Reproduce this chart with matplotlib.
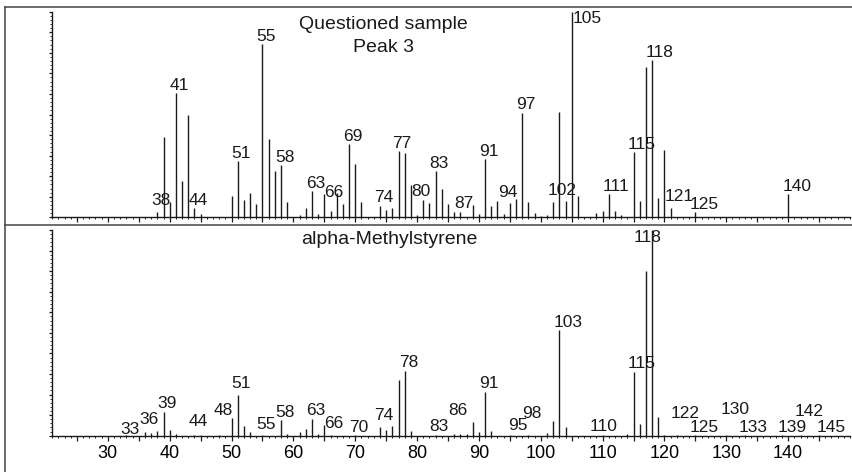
import matplotlib.pyplot as plt
from matplotlib.lines import Line2D
from matplotlib.ticker import FixedLocator, FuncFormatter, MultipleLocator

plt.rcParams["font.family"] = ["Liberation Sans", "DejaVu Sans"]

INK = "#1a1a1a"

# Questioned sample, peak 3 (relative abundance, %)
SAMPLE_MZ = [38, 39, 40, 41, 42, 43, 44, 45, 50, 51, 52, 53, 54, 55, 56, 57, 58, 59,
             61, 62, 63, 64, 65, 66, 67, 68, 69, 70, 71, 74, 75, 76, 77, 78, 79, 80,
             81, 82, 83, 84, 85, 86, 87, 89, 90, 91, 92, 93, 94, 95, 96, 97, 98, 99,
             100, 101, 102, 103, 104, 105, 106, 109, 110, 111, 112, 113, 115, 116,
             117, 118, 119, 120, 121, 125, 140]
SAMPLE_ABUND = [2.4, 39.2, 7.6, 60.3, 17.5, 49.6, 4.4, 1.5, 10.5, 27.2, 8.3, 11.7, 6.3,
                84.1, 37.9, 22.7, 25.3, 7.4, 1.3, 4.6, 12.6, 1.7, 11.4, 2.9, 11.7, 6.6,
                35.6, 25.8, 7.4, 5.7, 3.4, 4.6, 32.2, 31.1, 15.6, 1.2, 8.6, 7.0, 22.4,
                13.9, 6.5, 2.4, 2.8, 6.0, 1.8, 28.2, 5.4, 7.9, 1.7, 7.0, 9.0, 50.9, 7.4,
                1.9, 0.8, 1.3, 7.4, 51.4, 7.9, 100.0, 10.2, 2.2, 2.9, 11.1, 3.3, 1.1,
                31.6, 7.9, 72.9, 76.5, 9.5, 32.7, 4.7, 2.4, 11.2]
SAMPLE_LABELS = [38, 41, 44, 51, 55, 58, 63, 66, 69, 74, 77, 80, 83, 87, 91, 94, 97,
                 102, 105, 111, 115, 118, 121, 125, 140]

# Library reference spectrum: alpha-methylstyrene
REF_MZ = [33, 36, 37, 38, 39, 40, 41, 44, 45, 48, 50, 51, 52, 53, 55, 58, 59, 61, 62,
          63, 64, 65, 66, 70, 74, 75, 76, 77, 78, 79, 83, 86, 87, 88, 89, 90, 91, 92,
          95, 98, 101, 102, 103, 104, 110, 114, 115, 116, 117, 118, 119, 120, 122,
          125, 130, 133, 139, 142, 145]
REF_ABUND = [0.3, 1.6, 1.3, 2.4, 11.7, 2.6, 0.8, 0.5, 0.5, 0.4, 8.8, 19.6, 4.7, 1.6,
             0.4, 7.4, 0.8, 1.6, 3.1, 8.3, 1.0, 5.4, 0.4, 0.3, 4.4, 2.8, 4.9, 27.1,
             31.6, 2.1, 0.4, 0.8, 1.0, 1.0, 6.7, 1.6, 21.4, 2.1, 0.3, 0.4, 1.3, 7.0,
             51.2, 4.0, 0.3, 1.0, 31.1, 5.8, 80.1, 100.0, 8.9, 0.5, 0.3, 0.3, 0.3,
             0.3, 0.3, 0.3, 0.3]
REF_LABELS = [33, 36, 39, 44, 48, 51, 55, 58, 63, 66, 70, 74, 78, 83, 86, 91, 95, 98,
              103, 110, 115, 118, 122, 125, 130, 133, 139, 142, 145]

# label placement tweaks: m/z -> (baseline height in %, or None, x shift in points)
SAMPLE_NUDGE = {38: (6.0, 0), 66: (10.0, 0), 80: (10.4, 0), 94: (9.7, 0),
                102: (10.8, 0), 105: (94.7, 5.2), 121: (8.1, 0)}
REF_NUDGE = {33: (0.7, 0), 36: (5.5, 0), 44: (4.7, 0), 48: (10.0, 0), 51: (23.0, 0),
             55: (3.3, 0), 66: (3.6, 0), 74: (7.6, 0), 86: (10.0, 0),
             95: (2.8, 2.9), 98: (8.8, 0), 110: (2.3, -5.4), 118: (94.3, -9.0),
             122: (8.8, 0), 130: (10.4, 0), 139: (None, 1.3), 142: (9.7, 0),
             145: (None, 2.7)}

W, H = 852, 472


def draw_spectrum(ax, mz, abund, labels, nudge, show_ticklabels):
    ax.vlines(mz, 0, abund, color=INK, linewidth=1.0)
    height = dict(zip(mz, abund))
    for m in labels:
        y_fix, dx = nudge.get(m, (None, 0))
        if y_fix is None:
            xy, dy = (m, height[m]), 2.5
        else:
            xy, dy = (m, y_fix), 0
        ax.annotate(str(m), xy=xy, xytext=(-4.3 + dx, dy), textcoords="offset points",
                    ha="left", va="baseline", fontsize=12.5, color=INK,
                    annotation_clip=False)

    ax.set_xlim(21, 150)
    ax.set_ylim(0, 100)
    ax.patch.set_alpha(0)
    for side in ("top", "right"):
        ax.spines[side].set_visible(False)
    for side in ("left", "bottom"):
        ax.spines[side].set_linewidth(1.0)
        ax.spines[side].set_color(INK)

    ax.xaxis.set_major_locator(FixedLocator(range(25, 150, 5)))
    ax.xaxis.set_minor_locator(MultipleLocator(1))
    ax.xaxis.set_major_formatter(
        FuncFormatter(lambda v, p: f"{v:.0f}" if v % 10 == 0 else ""))
    ax.yaxis.set_major_locator(MultipleLocator(10))
    ax.yaxis.set_minor_locator(MultipleLocator(2))
    ax.tick_params(axis="x", which="major", length=3.5, width=0.9, color=INK,
                   pad=3, labelsize=13, labelbottom=show_ticklabels)
    ax.tick_params(axis="x", which="minor", length=1.5, width=0.7, color=INK)
    ax.tick_params(axis="y", which="major", length=2.5, width=0.9, color=INK,
                   labelleft=False)
    ax.tick_params(axis="y", which="minor", length=1.2, width=0.6, color=INK)


fig = plt.figure(figsize=(W / 100, H / 100), dpi=100)

ax_top = fig.add_axes([52.2 / W, 1 - 217.3 / H, 797.8 / W, 205.6 / H])
ax_bot = fig.add_axes([52.2 / W, 1 - 435.7 / H, 797.8 / W, 205.7 / H])

draw_spectrum(ax_top, SAMPLE_MZ, SAMPLE_ABUND, SAMPLE_LABELS, SAMPLE_NUDGE, False)
draw_spectrum(ax_bot, REF_MZ, REF_ABUND, REF_LABELS, REF_NUDGE, True)

fig.text(383.5 / W, 1 - 29 / H, "Questioned sample", ha="center", va="baseline",
         fontsize=14, color=INK)
fig.text(383.5 / W, 1 - 51.7 / H, "Peak 3", ha="center", va="baseline",
         fontsize=14, color=INK)
fig.text(389 / W, 1 - 244 / H, "alpha-Methylstyrene", ha="center", va="baseline",
         fontsize=14, color=INK)

# outer frame and panel divider
frame = dict(transform=fig.transFigure, color="#444444", linewidth=1.1)
fig.add_artist(Line2D([5 / W, 5 / W], [0, 1 - 7 / H], **frame))
fig.add_artist(Line2D([5 / W, 1], [1 - 7 / H, 1 - 7 / H], **frame))
fig.add_artist(Line2D([5 / W, 1], [1 - 225 / H, 1 - 225 / H], **frame))

fig.savefig("out.png", dpi=100, facecolor="white")
